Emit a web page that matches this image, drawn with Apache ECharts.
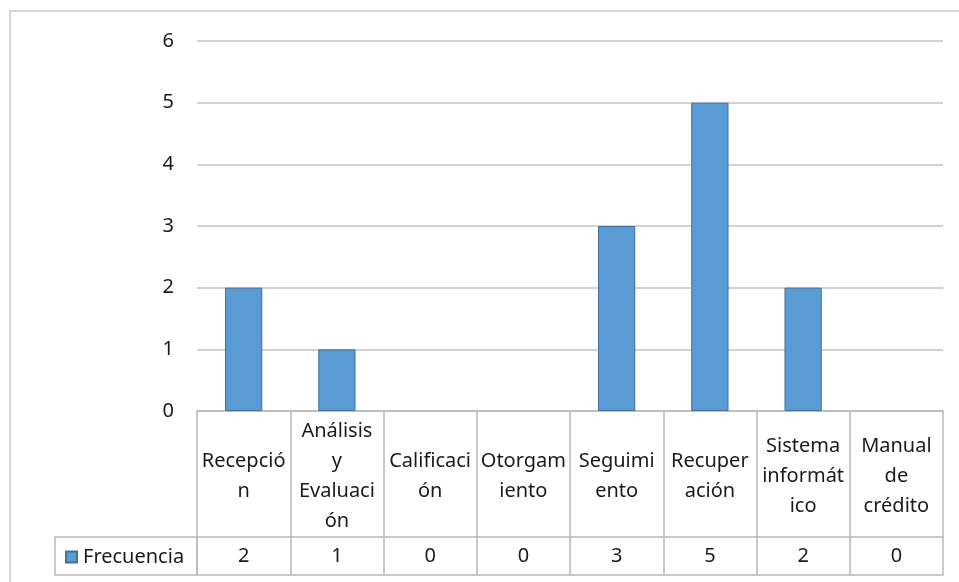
<!DOCTYPE html>
<html>
<head>
<meta charset="utf-8">
<script src="https://cdn.jsdelivr.net/npm/echarts@6/dist/echarts.min.js"></script>
<style>
  html, body { margin: 0; padding: 0; background: #fff; }
  #chart { width: 959px; height: 582px; }
</style>
</head>
<body>
<div id="chart"></div>
<script>
// datos del gráfico
const categoryLabels = [
  'Recepció\nn',
  'Análisis\ny\nEvaluaci\nón',
  'Calificaci\nón',
  'Otorgam\niento',
  'Seguimi\nento',
  'Recuper\nación',
  'Sistema\ninformát\nico',
  'Manual\nde\ncrédito'
]
const seriesName = 'Frecuencia'
const frecuencia = [2, 1, 0, 0, 3, 5, 2, 0]
const yTicks = [0, 1, 2, 3, 4, 5, 6]

const FONT = 'Noto Sans'
const TEXT = '#1a1a1a'
const LINE = '#b8b8b8'

const chart = echarts.init(document.getElementById('chart'))

chart.setOption({
  backgroundColor: '#fff',
  animation: false,
  textStyle: { fontFamily: FONT },
  grid: { left: 197, right: 16, top: 41, bottom: 171 },
  legend: {
    data: [seriesName],
    left: 60,
    top: 542,
    icon: 'rect',
    itemWidth: 11,
    itemHeight: 11,
    itemGap: 0,
    textStyle: { fontSize: 20, color: TEXT, fontFamily: FONT, padding: [0, 0, 0, 1] }
  },
  xAxis: [
    {
      // fila de categorías
      type: 'category',
      data: categoryLabels,
      position: 'bottom',
      boundaryGap: true,
      axisLine: { show: true, lineStyle: { color: LINE, width: 1.5 } },
      axisTick: { show: true, interval: 0, length: 164, lineStyle: { color: LINE, width: 1.5 } },
      axisLabel: {
        interval: 0,
        margin: 65,
        verticalAlign: 'middle',
        align: 'center',
        fontSize: 20,
        lineHeight: 30,
        color: TEXT,
        fontFamily: FONT
      },
      splitLine: { show: false }
    },
    {
      // fila de valores de la tabla
      type: 'category',
      data: categoryLabels,
      position: 'bottom',
      offset: 126,
      boundaryGap: true,
      axisLine: { show: true, lineStyle: { color: LINE, width: 1.5 } },
      axisTick: { show: false },
      axisLabel: {
        interval: 0,
        margin: 19,
        verticalAlign: 'middle',
        fontSize: 20,
        color: TEXT,
        fontFamily: FONT,
        formatter: (v, i) => String(frecuencia[i])
      }
    },
    {
      // borde inferior de la tabla
      type: 'category',
      data: categoryLabels,
      position: 'bottom',
      offset: 164,
      axisLine: { show: true, lineStyle: { color: LINE, width: 1.5 } },
      axisTick: { show: false },
      axisLabel: { show: false }
    }
  ],
  yAxis: {
    type: 'value',
    min: 0,
    max: yTicks[yTicks.length - 1],
    interval: 1,
    axisLine: { show: false },
    axisTick: { show: false },
    axisLabel: {
      margin: 23,
      fontSize: 20,
      color: TEXT,
      fontFamily: FONT,
      formatter: v => (yTicks.indexOf(v) >= 0 ? String(v) : '')
    },
    splitLine: { lineStyle: { color: '#c4c4c4', width: 1.5 } }
  },
  graphic: [
    {
      // borde exterior del gráfico
      type: 'rect',
      shape: { x: 10, y: 11, width: 970, height: 600 },
      style: { fill: 'none', stroke: '#d6d6d6', lineWidth: 2 },
      silent: true,
      z: 0
    },
    {
      // celda de la leyenda
      type: 'rect',
      shape: { x: 55, y: 537, width: 142, height: 38 },
      style: { fill: 'none', stroke: LINE, lineWidth: 1.5 },
      silent: true,
      z: 1
    }
  ],
  series: [
    {
      name: seriesName,
      type: 'bar',
      xAxisIndex: 0,
      barWidth: '40%',
      itemStyle: { color: '#5b9bd5', borderColor: '#41719c', borderWidth: 1 },
      data: frecuencia.map(v => (v === 0 ? { value: v, itemStyle: { borderWidth: 0 } } : v))
    }
  ]
})
</script>
</body>
</html>
